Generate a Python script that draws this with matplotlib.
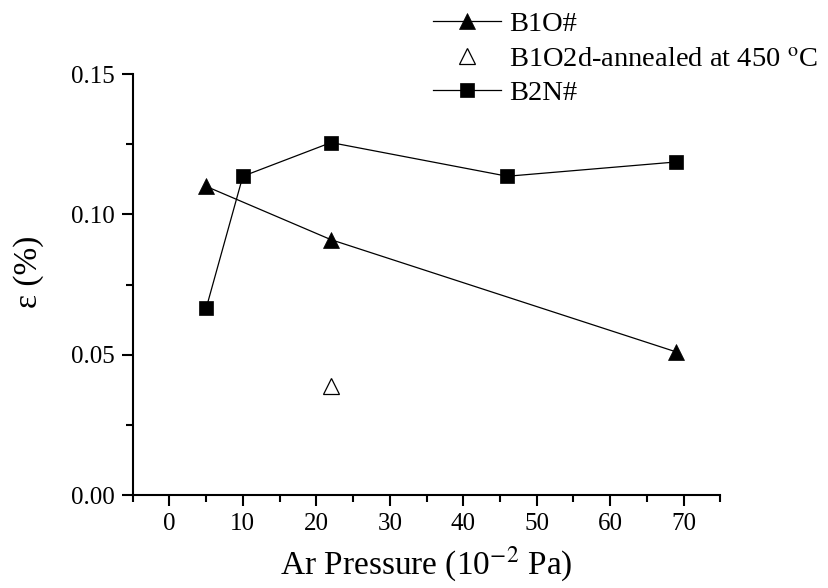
import matplotlib
matplotlib.use('Agg')
import matplotlib.pyplot as plt
from matplotlib.ticker import MultipleLocator, FormatStrFormatter

plt.rcParams['font.family'] = ['Liberation Serif', 'DejaVu Serif']
plt.rcParams['mathtext.fontset'] = 'stix'

# data
b1o_x = [5, 22, 69]
b1o_y = [0.110, 0.091, 0.051]

b1o2d_x = [22]
b1o2d_y = [0.039]

b2n_x = [5, 10, 22, 46, 69]
b2n_y = [0.0665, 0.1136, 0.1256, 0.1136, 0.1187]

fig = plt.figure(figsize=(8.29, 5.88), dpi=100)
ax = fig.add_axes([0.160, 0.158, 0.709, 0.716])

ax.plot(b1o_x, b1o_y, color='black', lw=0.9, marker='^', ms=12,
        mfc='black', mec='black', mew=0.5, label='B1O#')
ax.plot(b1o2d_x, b1o2d_y, ls='none', marker='^', ms=12,
        mfc='white', mec='black', mew=0.9,
        label='B1O2d-annealed at 450 $^{\\mathrm{o}}$C')
ax.plot(b2n_x, b2n_y, color='black', lw=0.9, marker='s', ms=10,
        mfc='black', mec='black', mew=0.5, label='B2N#')

ax.set_xlim(-5, 75)
ax.set_ylim(0, 0.15)
ax.xaxis.set_major_locator(MultipleLocator(10))
ax.xaxis.set_minor_locator(MultipleLocator(5))
ax.yaxis.set_major_locator(MultipleLocator(0.05))
ax.yaxis.set_minor_locator(MultipleLocator(0.025))
ax.yaxis.set_major_formatter(FormatStrFormatter('%.2f'))

for s in ['top', 'right']:
    ax.spines[s].set_visible(False)
for s in ['left', 'bottom']:
    ax.spines[s].set_linewidth(1.5)

ax.tick_params(which='major', direction='out', length=8, width=1.5,
               labelsize=18, pad=5)
ax.tick_params(which='minor', direction='out', length=5, width=1.5)

ax.set_xlabel('Ar Pressure (10$^{-2}$ Pa)', fontsize=24)
ax.xaxis.set_label_coords(0.50, -0.118)
ax.set_ylabel('ε (%)', fontsize=24)
ax.yaxis.set_label_coords(-0.150, 0.53)

fig.legend(loc='upper left', bbox_to_anchor=(0.508, 1.0), frameon=False,
           fontsize=20.5, handlelength=2.4, handletextpad=0.3, labelspacing=0.3,
           borderaxespad=0)

fig.savefig('out.png', dpi=100)
